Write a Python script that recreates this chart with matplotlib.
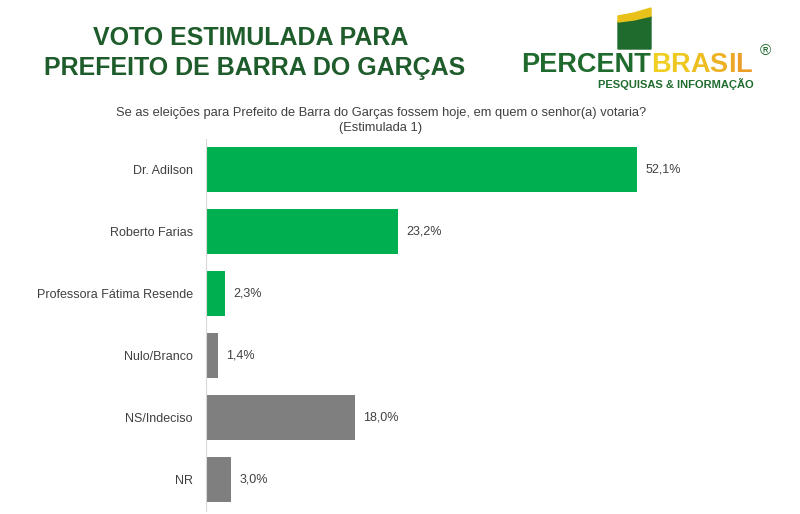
import matplotlib.pyplot as plt
from matplotlib.patches import Polygon

categories = ["Dr. Adilson", "Roberto Farias", "Professora Fátima Resende",
              "Nulo/Branco", "NS/Indeciso", "NR"]
values = [52.1, 23.2, 2.3, 1.4, 18.0, 3.0]
value_labels = ["52,1%", "23,2%", "2,3%", "1,4%", "18,0%", "3,0%"]
is_candidate = [True, True, True, False, False, False]

GREEN = "#00B050"
GREY = "#7F7F7F"
DARK_GREEN = "#1F5C2B"
LOGO_GREEN = "#1F6B2E"
TEXT = "#404040"
# yellow -> orange shading across the letters of "BRASIL"
BRASIL_COLORS = ["#F0CF22", "#EEC721", "#EDBD22", "#ECB124", "#EBA826", "#EA9E28"]

plt.rcParams["font.family"] = ["Liberation Sans", "DejaVu Sans"]

fig = plt.figure(figsize=(8.0, 5.14), dpi=100)
W, H = 800, 514


def px(xp, yp):
    return (xp / W, 1 - yp / H)


# bar axes placed in pixel terms
left, right, top, bottom = 206, 785, 138.5, 510.5
ax = fig.add_axes([left / W, 1 - bottom / H, (right - left) / W, (bottom - top) / H])

y = list(range(len(categories)))
colors = [GREEN if c else GREY for c in is_candidate]
ax.barh(y, values, height=0.71, color=colors, edgecolor="none")
ax.set_xlim(0, 70)
ax.set_ylim(len(categories) - 0.5, -0.5)
for yi, v, lab in zip(y, values, value_labels):
    ax.text(v + 1.0, yi, lab, ha="left", va="center", fontsize=9, color=TEXT)

ax.set_yticks(y)
ax.set_yticklabels(categories, fontsize=9, color=TEXT)
ax.tick_params(axis="y", length=0, pad=9.4)
ax.set_xticks([])
for s in ["top", "right", "bottom"]:
    ax.spines[s].set_visible(False)
ax.spines["left"].set_color("#D9D9D9")
ax.spines["left"].set_linewidth(0.8)

# title
fig.text(*px(251, 38), "VOTO ESTIMULADA PARA", ha="center", va="center",
         fontsize=18, fontweight="bold", color=DARK_GREEN)
fig.text(*px(255, 68), "PREFEITO DE BARRA DO GARÇAS", ha="center", va="center",
         fontsize=18, fontweight="bold", color=DARK_GREEN)

# subtitle
fig.text(*px(381, 113),
         "Se as eleições para Prefeito de Barra do Garças fossem hoje, em quem o senhor(a) votaria?",
         ha="center", va="center", fontsize=9.3, color=TEXT)
fig.text(*px(381, 128), "(Estimulada 1)", ha="center", va="center",
         fontsize=9.3, color=TEXT)

# logo: flag mark
flag_green = Polygon([px(618, 22), px(651, 16), px(651, 49), px(618, 49)],
                     closed=True, transform=fig.transFigure, color=LOGO_GREEN)
flag_yellow = Polygon([px(618, 16), px(634, 13), px(651, 8), px(651, 16),
                       px(634, 20), px(618, 22)],
                      closed=True, transform=fig.transFigure, color="#E8C21A")
fig.patches.extend([flag_green, flag_yellow])

# logo: wordmark, coloured letters chained after "PERCENT"
anchor = fig.text(*px(521, 72), "PERCENT", ha="left", va="baseline",
                  fontsize=19.5, fontweight="bold", color=LOGO_GREEN)
for letter, col in zip("BRASIL", BRASIL_COLORS):
    anchor = fig.add_artist(
        plt.Annotation(letter, xy=(1, 0), xycoords=anchor, xytext=(0, 0),
                       textcoords="offset points", ha="left", va="bottom",
                       fontsize=19.5, fontweight="bold", color=col))

fig.text(*px(760, 51), "®", ha="left", va="center",
         fontsize=11, color=LOGO_GREEN)
fig.text(*px(598, 84), "PESQUISAS & INFORMAÇÃO", ha="left", va="center",
         fontsize=8, fontweight="bold", color=LOGO_GREEN)

fig.savefig("out.png", dpi=100, facecolor="white")
